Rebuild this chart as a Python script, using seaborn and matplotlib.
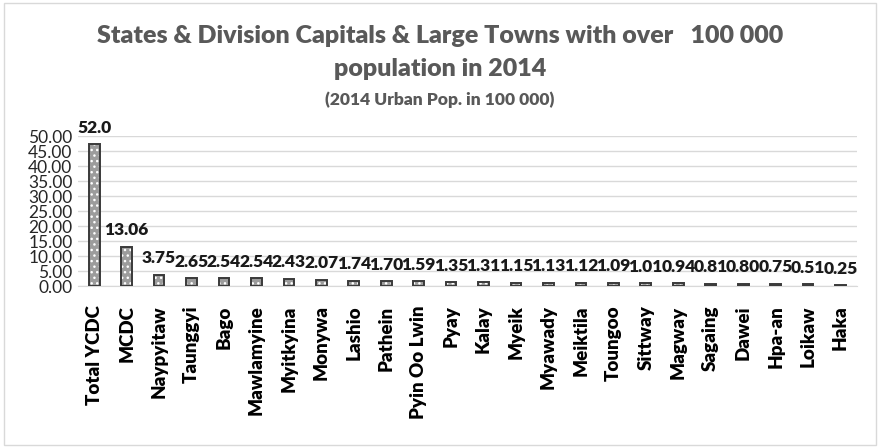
import matplotlib
matplotlib.use('Agg')
import matplotlib.pyplot as plt
import seaborn as sns
import pandas as pd
from matplotlib.patches import Rectangle

towns = ['Total YCDC', 'MCDC', 'Naypyitaw', 'Taunggyi', 'Bago', 'Mawlamyine', 'Myitkyina',
         'Monywa', 'Lashio', 'Pathein', 'Pyin Oo Lwin', 'Pyay', 'Kalay', 'Myeik', 'Myawady',
         'Meiktila', 'Toungoo', 'Sittway', 'Magway', 'Sagaing', 'Dawei', 'Hpa-an', 'Loikaw', 'Haka']
pop = [47.3, 13.06, 3.75, 2.65, 2.54, 2.54, 2.43, 2.07, 1.74, 1.70, 1.59, 1.35, 1.31,
       1.15, 1.13, 1.12, 1.09, 1.01, 0.94, 0.81, 0.80, 0.75, 0.51, 0.25]
value_labels = ['52.0', '13.06', '3.75', '2.65', '2.54', '2.54', '2.43', '2.07', '1.74', '1.70',
                '1.59', '1.35', '1.31', '1.15', '1.13', '1.12', '1.09', '1.01', '0.94', '0.81',
                '0.80', '0.75', '0.51', '0.25']

df = pd.DataFrame({'town': towns, 'pop': pop})

sns.set_style('white')
plt.rcParams['font.family'] = ['Lato', 'DejaVu Sans']

fig = plt.figure(figsize=(8.8, 4.48), dpi=100)
ax = fig.add_axes([0.0886, 0.3616, 0.885, 0.3348])

# filled bars with white dot pattern, then dark outline on top
sns.barplot(data=df, x='town', y='pop', ax=ax, width=0.33, color='#9c9c9c',
            edgecolor='white', linewidth=0, hatch='...', saturation=1, zorder=3)
sns.barplot(data=df, x='town', y='pop', ax=ax, width=0.33, fill=False,
            edgecolor='#3a3a3a', linewidth=1.4, zorder=4)

for i, (v, lab) in enumerate(zip(pop, value_labels)):
    ax.annotate(lab, (i, v), xytext=(0, 6), textcoords='offset points',
                ha='center', va='bottom', fontsize=12.5, fontweight='heavy', color='#1a1a1a')

ax.set_ylim(0, 50)
ax.set_yticks(range(0, 51, 5))
ax.set_yticklabels([f'{t:.2f}' for t in range(0, 51, 5)], fontsize=12.5, color='#262626')
ax.set_xlim(-0.5, len(towns) - 0.5)
ax.set_xticks(range(len(towns)))
ax.set_xticklabels(towns, rotation=90, fontsize=13.5, fontweight='heavy', color='#000000')
ax.tick_params(axis='x', pad=14, length=0)
ax.tick_params(axis='y', pad=4, length=0)
ax.set_xlabel('')
ax.set_ylabel('')
ax.grid(axis='y', color='#d9d9d9', linewidth=1, zorder=0)
ax.set_axisbelow(True)
for s in ['top', 'right', 'left']:
    ax.spines[s].set_visible(False)
ax.spines['bottom'].set_color('#d9d9d9')

fig.text(0.5, 0.92, 'States & Division Capitals & Large Towns with over   100 000',
         ha='center', va='center', fontsize=18, fontweight='heavy', color='#595959')
fig.text(0.5, 0.845, 'population in 2014', ha='center', va='center',
         fontsize=18, fontweight='heavy', color='#595959')
fig.text(0.5, 0.777, '(2014 Urban Pop. in 100 000)', ha='center', va='center',
         fontsize=12.5, fontweight='heavy', color='#595959')

fig.patches.append(Rectangle((0.004, 0.006), 0.992, 0.988, transform=fig.transFigure,
                             fill=False, edgecolor='#d9d9d9', linewidth=1))

fig.savefig('out.png', dpi=100)
